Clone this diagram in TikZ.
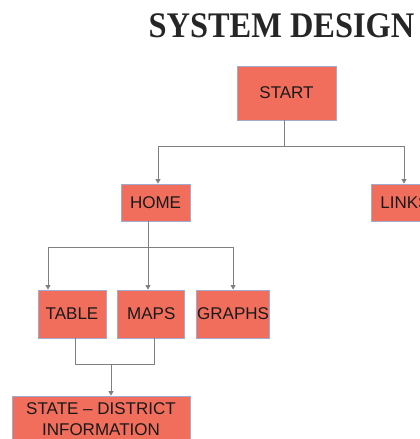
\documentclass[tikz,border=0pt]{standalone}
\usepackage{fontspec}
\setmainfont{Liberation Serif}
\setsansfont{Liberation Sans}
\usepackage{xcolor}
\usetikzlibrary{arrows.meta, positioning}
\definecolor{boxfill}{HTML}{F26E5C}
\definecolor{boxedge}{HTML}{A3AACF}
\definecolor{wire}{HTML}{808080}
\tikzset{
  box/.style={rectangle, draw=boxedge, fill=boxfill, line width=0.8pt, inner sep=0pt,
    align=center, font=\sffamily\fontsize{17}{21}\selectfont, text=black!90},
  link/.style={draw=wire, line width=0.9pt},
  arrow/.style={link, -{Triangle[width=5pt,length=4.5pt]}},
}

\begin{document}
\begin{tikzpicture}[x=1pt, y=-1pt]
    \useasboundingbox (0,0) rectangle (420,439);
    \clip (0,0) rectangle (420,439);
    \node[font=\bfseries\fontsize{36}{40}\selectfont, text=black!85] (title) at (281.5,26) {\scalebox{0.9}[1]{SYSTEM DESIGN}};
    \node[box, minimum width=99pt, minimum height=54pt] (start) at (286.5,93) {START};
    \node[box, minimum width=69pt, minimum height=37pt] (home) at (155.5,202.5) {HOME};
    \node[box, minimum width=68pt, minimum height=37pt] (links) at (405,202.5) {LINKS};
    \node[box, minimum width=68pt, minimum height=48pt] (table) at (72,314) {TABLE};
    \node[box, minimum width=67pt, minimum height=48pt, right=11pt of table] (maps) {MAPS};
    \node[box, minimum width=73pt, minimum height=48pt, right=11pt of maps] (graphs) {GRAPHS};
    \node[box, minimum width=178pt, minimum height=46pt] (state) at (101,419) {STATE -- DISTRICT\\INFORMATION};
    \coordinate (fork1) at (284,146);
    \coordinate (fork2) at (148,247);
    \coordinate (merge) at (111,364);
    % start to home and links
    \draw[link] (fork1 |- start.south) -- (fork1);
    \draw[arrow] (fork1) -| ([xshift=2.5pt]home.north);
    \draw[arrow] (fork1) -| ([xshift=-1pt]links.north);
    % home to table, maps, graphs
    \draw[link] (fork2 |- home.south) -- (fork2);
    \draw[arrow] (fork2) -| ([xshift=-24pt]table.north);
    \draw[arrow] (fork2) -- (fork2 |- maps.north);
    \draw[arrow] (fork2) -| (graphs.north);
    % table and maps to state
    \draw[link] ([xshift=3pt]table.south) |- (merge);
    \draw[link] ([xshift=3.5pt]maps.south) |- (merge);
    \draw[arrow] (merge) -- (merge |- state.north);
  \end{tikzpicture}
\end{document}
